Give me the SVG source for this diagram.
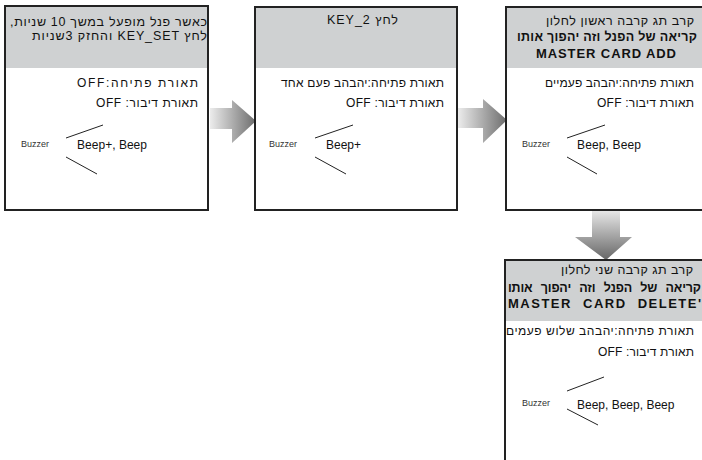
<svg xmlns="http://www.w3.org/2000/svg" width="702" height="460" viewBox="0 0 702 460">
<defs>
<linearGradient id="gh" x1="0" y1="0" x2="1" y2="0">
<stop offset="0" stop-color="#ececec"/>
<stop offset="1" stop-color="#6c6c6c"/>
</linearGradient>
<linearGradient id="gv" x1="0" y1="0" x2="0" y2="1">
<stop offset="0" stop-color="#e6e6e6"/>
<stop offset="1" stop-color="#666"/>
</linearGradient>
</defs>
<style>
.bg{fill:#fff}
.hd{fill:#cfd1d2}
.fr{fill:none;stroke:#222;stroke-width:2}
text{font-family:"Liberation Sans","DejaVu Sans",Arial,sans-serif;fill:#111}
.rtl{direction:rtl;text-anchor:start}
.h{font-size:12.5px}
.b{font-size:12px}
.bold{font-weight:bold}
.m{font-size:13px;font-weight:bold}
.bz{font-size:9px;fill:#333}
.bp{font-size:12px}
.ln{stroke:#222;stroke-width:1;fill:none}
</style>

<g id="connectors">
<polygon fill="url(#gh)" points="210,108 232,108 232,100 256,121 232,143 232,129 210,129"/>
<polygon fill="url(#gh)" points="458,108 483,108 483,99 507,120 483,143 483,128 458,128"/>
<polygon fill="url(#gv)" points="592,211 620,211 620,237 632,237 606,260 575,237 592,237"/>
</g>

<g id="node1">
<rect class="bg" x="5" y="6" width="203" height="204"/>
<rect class="hd" x="5" y="6" width="203" height="62"/>
<rect class="fr" x="5" y="6" width="203" height="204"/>
<text class="h rtl" x="207" y="26" textLength="197" lengthAdjust="spacing">כאשר פנל מופעל במשך 10 שניות,</text>
<text class="h rtl" x="207" y="40" textLength="175" lengthAdjust="spacing">לחץ KEY_SET והחזק 3שניות</text>
<text class="b rtl" x="198" y="87" textLength="121" lengthAdjust="spacing">תאורת פתיחה:OFF</text>
<text class="b rtl" x="198" y="107" textLength="102" lengthAdjust="spacing">תאורת דיבור: OFF</text>
<text class="bz" x="21" y="147">Buzzer</text>
<line class="ln" x1="66" y1="138" x2="103" y2="125"/>
<line class="ln" x1="66" y1="157" x2="97" y2="174"/>
<text class="bp" x="77" y="149" textLength="70" lengthAdjust="spacing">Beep+, Beep</text>
</g>

<g id="node2">
<rect class="bg" x="255" y="7" width="202" height="203"/>
<rect class="hd" x="255" y="7" width="202" height="61"/>
<rect class="fr" x="255" y="7" width="202" height="203"/>
<text class="h rtl" x="398" y="24" textLength="71" lengthAdjust="spacing">לחץ KEY_2</text>
<text class="b rtl" x="444" y="87" textLength="163" lengthAdjust="spacing">תאורת פתיחה:יהבהב פעם אחד</text>
<text class="b rtl" x="444" y="107" textLength="98" lengthAdjust="spacing">תאורת דיבור: OFF</text>
<text class="bz" x="269" y="147">Buzzer</text>
<line class="ln" x1="315" y1="138" x2="353" y2="125"/>
<line class="ln" x1="315" y1="157" x2="346" y2="174"/>
<text class="bp" x="326" y="149">Beep+</text>
</g>

<g id="node3">
<rect class="bg" x="506" y="7" width="210" height="203"/>
<rect class="hd" x="506" y="7" width="210" height="61"/>
<rect class="fr" x="506" y="7" width="210" height="203"/>
<text class="h rtl" x="694" y="25" textLength="148" lengthAdjust="spacing">קרב תג קרבה ראשון לחלון</text>
<text class="h rtl bold" x="697" y="41" textLength="180" lengthAdjust="spacing">קריאה של הפנל וזה יהפוך אותו</text>
<text class="m" x="536" y="58" textLength="140" lengthAdjust="spacing">MASTER CARD ADD</text>
<text class="b rtl" x="694" y="87" textLength="149" lengthAdjust="spacing">תאורת פתיחה:יהבהב פעמיים</text>
<text class="b rtl" x="694" y="107" textLength="97" lengthAdjust="spacing">תאורת דיבור: OFF</text>
<text class="bz" x="522" y="147">Buzzer</text>
<line class="ln" x1="567" y1="138" x2="605" y2="125"/>
<line class="ln" x1="567" y1="157" x2="597" y2="174"/>
<text class="bp" x="577" y="149" textLength="64" lengthAdjust="spacing">Beep, Beep</text>
</g>

<g id="node4">
<rect class="bg" x="505" y="260" width="210" height="220"/>
<rect class="hd" x="505" y="260" width="210" height="61"/>
<rect class="fr" x="505" y="260" width="210" height="220"/>
<text class="h rtl" x="693" y="274" textLength="132" lengthAdjust="spacing">קרב תג קרבה שני לחלון</text>
<text class="h rtl bold" x="701" y="292" word-spacing="5" textLength="193" lengthAdjust="spacing">קריאה של הפנל וזה יהפוך אותו</text>
<text class="m" x="508" y="308" word-spacing="6" textLength="193" lengthAdjust="spacing">MASTER CARD DELETE'</text>
<text class="b rtl" x="694" y="335" textLength="188" lengthAdjust="spacing">תאורת פתיחה:יהבהב שלוש פעמים</text>
<text class="b rtl" x="694" y="356" textLength="96" lengthAdjust="spacing">תאורת דיבור: OFF</text>
<text class="bz" x="522" y="406">Buzzer</text>
<line class="ln" x1="567" y1="391" x2="604" y2="377"/>
<line class="ln" x1="567" y1="409" x2="598" y2="425"/>
<text class="bp" x="577" y="409">Beep, Beep, Beep</text>
</g>
</svg>
